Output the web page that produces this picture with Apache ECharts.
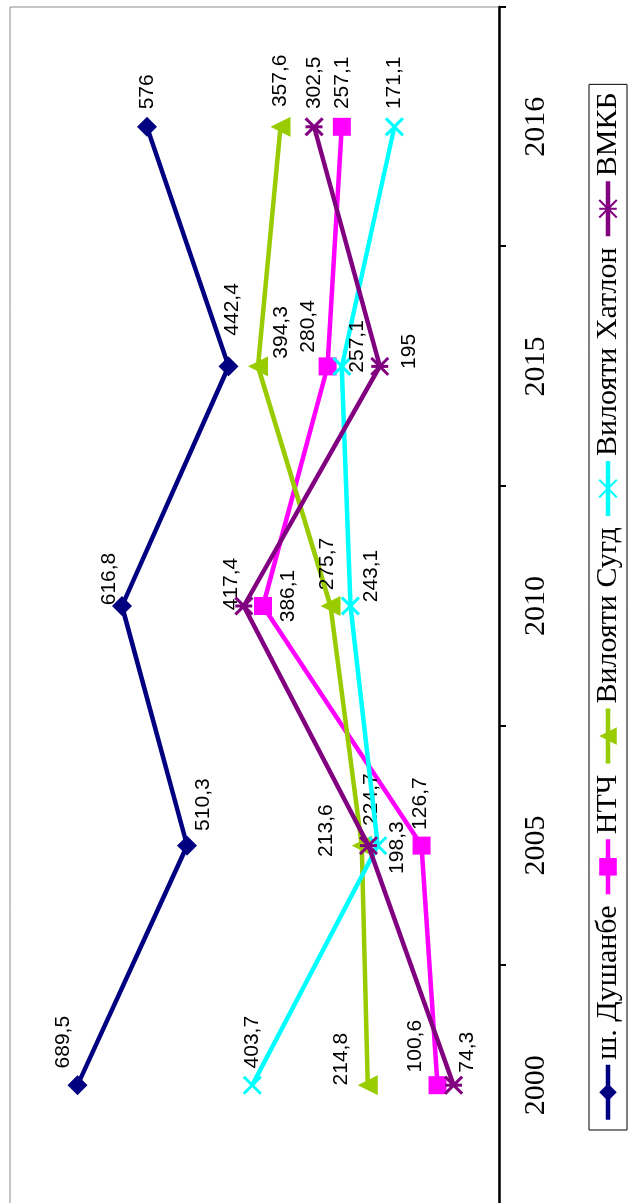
<!DOCTYPE html>
<html>
<head>
<meta charset="utf-8">
<script src="https://cdn.jsdelivr.net/npm/echarts@6/dist/echarts.min.js"></script>
<style>
  html, body { margin: 0; padding: 0; background: #fff; overflow: hidden; }
  #chart {
    position: absolute; left: 0; top: 0;
    width: 1205px; height: 629px;
    transform-origin: 0 0;
    transform: translate(0, 1205px) rotate(-90deg);
  }
</style>
</head>
<body>
<div id="chart"></div>
<script>
// ---- data ----
const years = ['2000', '2005', '2010', '2015', '2016'];
const seriesNames = ['ш. Душанбе', 'НТЧ', 'Вилояти Сугд', 'Вилояти Хатлон', 'ВМКБ'];
const dushanbe = [689.5, 510.3, 616.8, 442.4, 576];
const ntch = [100.6, 126.7, 386.1, 280.4, 257.1];
const sugd = [214.8, 224.7, 275.7, 394.3, 357.6];
const khatlon = [403.7, 198.3, 243.1, 257.1, 171.1];
const vmkb = [74.3, 213.6, 417.4, 195, 302.5];
const valueMin = 0;
const valueMax = 800;

// ---- styling (label offsets in px, not data) ----
const colors = ['#000080', '#FF00FF', '#99CC00', '#00FFFF', '#800080'];
const symbols = [
  'diamond', 'rect', 'triangle',
  'path://M0,0L10,10M10,0L0,10',
  'path://M0,0L10,10M10,0L0,10M5,0L5,10'
];
const symbolSizes = [20, 18, 20, 17, 17];
const borderWidths = [0, 0, 0, 3, 3];
const labelOffsets = [
  [[43, -14], [41, 16], [27, -13], [57, 4], [35, 0]],
  [[39, -22], [42, -1], [10, 25], [40, -19], [44, 0]],
  [[26, -27], [46, 10], [42, -3], [34, 23], [46, 0]],
  [[43, 0], [-2, 19], [30, 21], [20, 15], [44, 0]],
  [[33, 14], [15, -42], [22, -13], [15, 29], [44, 0]]
];
const allValues = [dushanbe, ntch, sugd, khatlon, vmkb];

const series = allValues.map((vals, i) => ({
  name: seriesNames[i],
  type: 'line',
  data: vals.map((v, j) => ({
    value: v,
    label: { offset: labelOffsets[i][j] }
  })),
  symbol: symbols[i],
  symbolSize: symbolSizes[i],
  showAllSymbol: true,
  lineStyle: { color: colors[i], width: 4.5 },
  itemStyle: {
    color: colors[i],
    borderColor: colors[i],
    borderWidth: borderWidths[i]
  },
  label: {
    show: true,
    position: 'inside',
    color: '#000',
    fontFamily: 'Liberation Sans',
    fontSize: 21,
    formatter: p => String(p.value).replace('.', ',')
  },
  emphasis: { disabled: true },
  z: 2 + i
}));

const chart = echarts.init(document.getElementById('chart'), null, { renderer: 'canvas' });
chart.setOption({
  animation: false,
  backgroundColor: '#fff',
  grid: {
    left: 0, right: 7, top: 10, bottom: 130,
    show: true, borderColor: '#8c8c8c', borderWidth: 1, backgroundColor: '#fff'
  },
  xAxis: {
    type: 'category',
    data: years,
    boundaryGap: true,
    axisLine: { show: true, lineStyle: { color: '#000', width: 2.5 } },
    axisTick: { show: true, inside: false, length: 7, lineStyle: { color: '#000', width: 2 } },
    axisLabel: {
      color: '#000', fontFamily: 'Liberation Serif', fontSize: 30, margin: 22
    },
    splitLine: { show: false }
  },
  yAxis: {
    type: 'value',
    min: valueMin, max: valueMax,
    axisLine: { show: false },
    axisTick: { show: false },
    axisLabel: { show: false },
    splitLine: { show: false }
  },
  legend: {
    data: seriesNames,
    left: 75, top: 589,
    orient: 'horizontal',
    borderColor: '#000', borderWidth: 1,
    padding: [4, 8, 4, 8],
    itemGap: 9,
    itemWidth: 55,
    itemHeight: 22,
    selectedMode: false,
    lineStyle: { width: 4.5 },
    textStyle: { color: '#000', fontFamily: 'Liberation Serif', fontSize: 30 }
  },
  series: series
});
</script>
</body>
</html>
